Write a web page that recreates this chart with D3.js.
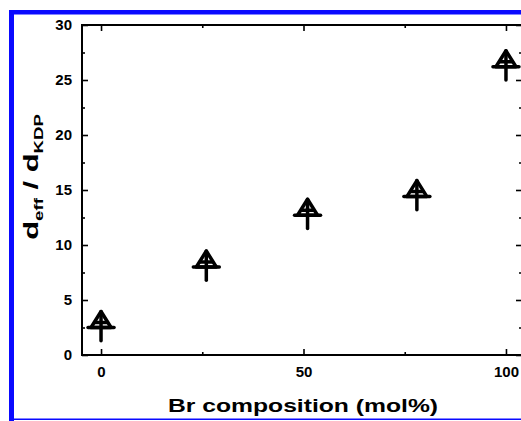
<!DOCTYPE html>
<html>
<head>
<meta charset="utf-8">
<script src="https://cdn.jsdelivr.net/npm/d3@7"></script>
<style>
  html, body { margin: 0; background: #fff; overflow: hidden; }
  svg { display: block; }
  svg text { font-family: "Liberation Sans", Arial, sans-serif; }
</style>
</head>
<body>
<div id="chart"></div>
<script>
// data
const composition = [0, 26, 51, 78, 100]
const ratio = [2.5, 8.0, 12.7, 14.4, 26.2]
const ratioErr = [1.2, 1.2, 1.2, 1.2, 1.2]
const xTicks = [0, 50, 100]
const yTicks = [0, 5, 10, 15, 20, 25, 30]

const W = 521, H = 421
// the right side of the frame lies just past the picture edge
const plot = { left: 82, right: 525, top: 25, bottom: 355 }

const svg = d3.select('#chart').append('svg')
    .attr('width', W)
    .attr('height', H)

svg.append('rect').attr('width', W).attr('height', H).attr('fill', '#fff')

// blue frame round the figure
svg.append('rect').attr('x', 9).attr('y', 10).attr('width', W - 9).attr('height', 4.5).attr('fill', '#0a0aff')
svg.append('rect').attr('x', 9).attr('y', 10).attr('width', 5).attr('height', H - 10).attr('fill', '#0a0aff')
svg.append('rect').attr('x', 9).attr('y', 418.5).attr('width', W - 9).attr('height', 1.5).attr('fill', '#0a0aff')

const x = d3.scaleLinear().domain([-4.7, 104.7]).range([plot.left, plot.right])
const y = d3.scaleLinear().domain([0, 30]).range([plot.bottom, plot.top])

const minorX = [25, 75]
const minorY = d3.range(2.5, 30, 5)

// axes: ticks point inwards on all four sides
function styleAxis(g) {
    g.select('.domain').remove()
    g.selectAll('.tick line').attr('stroke', '#000').attr('stroke-width', 1.6)
    g.selectAll('text')
        .attr('fill', '#000')
        .style('font-size', '15px')
        .style('font-weight', 'bold')
}

svg.append('g').attr('transform', `translate(0,${plot.bottom})`)
    .call(d3.axisBottom(x).tickValues(xTicks).tickSize(-6).tickPadding(11).tickFormat(d3.format('d')))
    .call(styleAxis)
svg.append('g').attr('transform', `translate(0,${plot.bottom})`)
    .call(d3.axisBottom(x).tickValues(minorX).tickSize(-3).tickFormat(''))
    .call(styleAxis)
svg.append('g').attr('transform', `translate(0,${plot.top})`)
    .call(d3.axisTop(x).tickValues(xTicks.concat(minorX)).tickSize(-6).tickFormat(''))
    .call(styleAxis)
    .call(g => g.selectAll('.tick line').attr('y2', (d) => minorX.includes(d) ? 3 : 6))

svg.append('g').attr('transform', `translate(${plot.left},0)`)
    .call(d3.axisLeft(y).tickValues(yTicks).tickSize(-6).tickPadding(10))
    .call(styleAxis)
svg.append('g').attr('transform', `translate(${plot.left},0)`)
    .call(d3.axisLeft(y).tickValues(minorY).tickSize(-3).tickFormat(''))
    .call(styleAxis)
svg.append('g').attr('transform', `translate(${plot.right},0)`)
    .call(d3.axisRight(y).tickValues(yTicks.concat(minorY)).tickSize(-8).tickFormat(''))
    .call(styleAxis)
    .call(g => g.selectAll('.tick line').attr('x2', (d) => minorY.includes(d) ? -6 : -9))

// frame lines
svg.append('path')
    .attr('d', `M${plot.left},${plot.top}V${plot.bottom}H${plot.right}V${plot.top}Z`)
    .attr('fill', 'none')
    .attr('stroke', '#000')
    .attr('stroke-width', 2)

// markers: open triangle crossed by the error bars
const points = composition.map((c, i) => ({ c: c, v: ratio[i], e: ratioErr[i] }))
const marks = svg.append('g')
    .attr('fill', 'none')
    .attr('stroke', '#000')
    .attr('stroke-width', 3.5)
    .attr('stroke-linecap', 'round')

marks.selectAll('g.pt')
    .data(points)
    .enter()
    .append('g')
    .attr('class', 'pt')
    .attr('transform', (d) => `translate(${x(d.c)},${y(d.v)})`)
    .each(function (d) {
        const g = d3.select(this)
        const top = y(d.v + d.e) - y(d.v)
        const bottom = y(d.v - d.e) - y(d.v)
        g.append('path').attr('d', 'M0,-16L-10,0L10,0Z').attr('stroke-linejoin', 'round')
        g.append('line').attr('x1', -13).attr('x2', 13).attr('y1', 0).attr('y2', 0)
        g.append('line').attr('x1', -6).attr('x2', 6).attr('y1', -5).attr('y2', -5)
        g.append('line').attr('x1', 0).attr('x2', 0).attr('y1', Math.min(top, -16)).attr('y2', bottom)
    })

// titles
svg.append('text')
    .attr('transform', 'translate(303,412) scale(1.3,1)')
    .attr('text-anchor', 'middle')
    .style('font-size', '19px')
    .style('font-weight', 'bold')
    .text('Br composition (mol%)')

const yt = svg.append('text')
    .attr('transform', 'translate(38,177) rotate(-90) scale(1.55,1)')
    .attr('text-anchor', 'middle')
    .style('font-size', '20px')
    .style('font-weight', 'bold')
yt.append('tspan').text('d')
yt.append('tspan').attr('dy', 5).style('font-size', '12px').text('eff')
yt.append('tspan').attr('dy', -5).text(' / d')
yt.append('tspan').attr('dy', 5).style('font-size', '12px').text('KDP')
</script>
</body>
</html>
